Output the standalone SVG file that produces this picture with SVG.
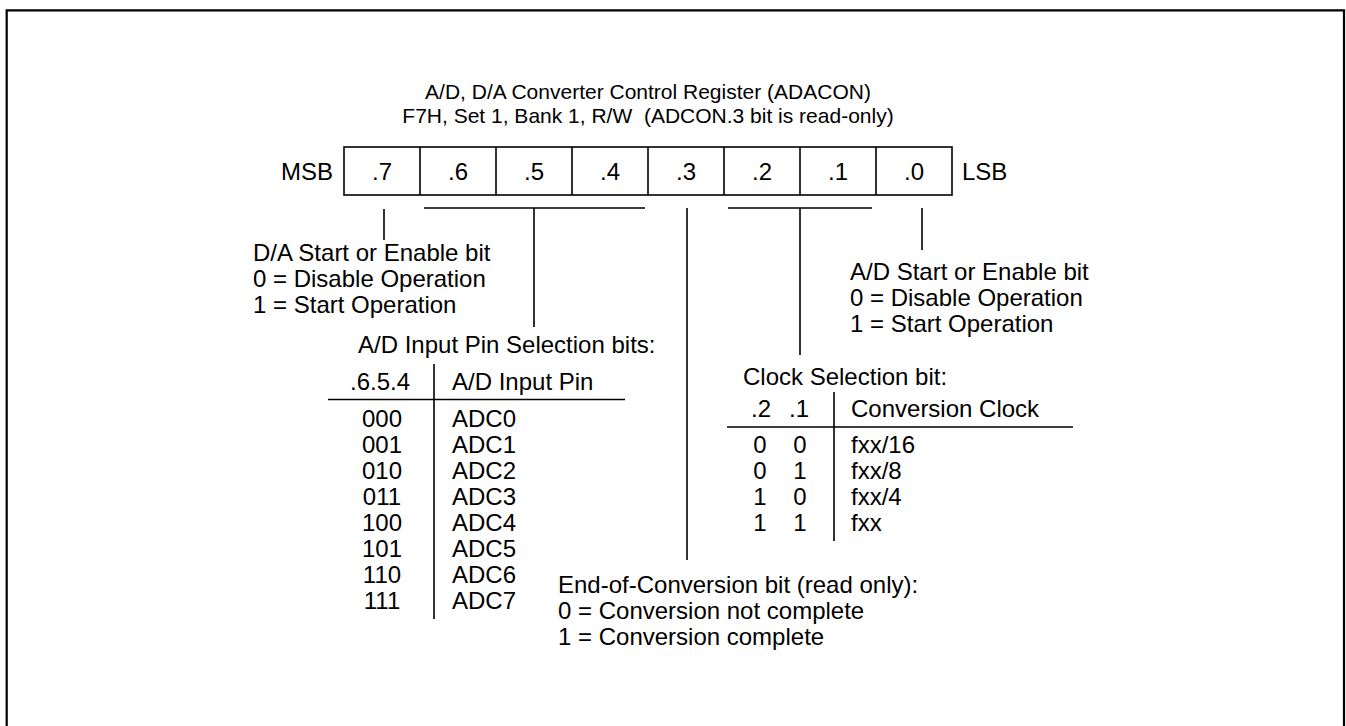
<svg xmlns="http://www.w3.org/2000/svg" width="1346" height="726" viewBox="0 0 1346 726">
<style>
text{font-family:"Liberation Sans",Arial,sans-serif;font-size:24px;fill:#000}
.t{font-size:21px}
.m{text-anchor:middle}
.e{text-anchor:end}
.ln{stroke:#000;stroke-width:1.6;fill:none}
</style>
<rect width="1346" height="726" fill="#fff"/>
<path d="M6.7 726V10.3H1344V726" fill="none" stroke="#000" stroke-width="2.2"/>
<g id="title">
<text class="t m" x="648" y="99">A/D, D/A Converter Control Register (ADACON)</text>
<text class="t m" x="648" y="123" xml:space="preserve">F7H, Set 1, Bank 1, R/W  (ADCON.3 bit is read-only)</text>
</g>
<g id="register">
<text class="e" x="333" y="180">MSB</text>
<rect class="ln" x="344" y="147" width="608" height="48"/>
<path class="ln" d="M420 147V195M496 147V195M572 147V195M648 147V195M724 147V195M800 147V195M876 147V195"/>
<text class="m" x="382" y="180">.7</text>
<text class="m" x="458" y="180">.6</text>
<text class="m" x="534" y="180">.5</text>
<text class="m" x="610" y="180">.4</text>
<text class="m" x="686" y="180">.3</text>
<text class="m" x="762" y="180">.2</text>
<text class="m" x="838" y="180">.1</text>
<text class="m" x="914" y="180">.0</text>
<text x="962" y="180">LSB</text>
</g>
<g id="connectors">
<path class="ln" d="M384 209V240"/>
<path class="ln" d="M424 208H645M534 208V327"/>
<path class="ln" d="M687 208V560"/>
<path class="ln" d="M728 208H872M800 208V355"/>
<path class="ln" d="M922 208V250"/>
</g>
<g id="bit7">
<text x="253" y="261">D/A Start or Enable bit</text>
<text x="253" y="287">0 = Disable Operation</text>
<text x="253" y="313">1 = Start Operation</text>
</g>
<g id="bits654">
<text x="358" y="353">A/D Input Pin Selection bits:</text>
<path class="ln" d="M434 364V619M328 399.5H625"/>
<text class="m" x="380" y="390">.6.5.4</text>
<text x="452" y="390">A/D Input Pin</text>
<text class="m" x="382" y="427">000</text><text x="452" y="427">ADC0</text>
<text class="m" x="382" y="453">001</text><text x="452" y="453">ADC1</text>
<text class="m" x="382" y="479">010</text><text x="452" y="479">ADC2</text>
<text class="m" x="382" y="505">011</text><text x="452" y="505">ADC3</text>
<text class="m" x="382" y="531">100</text><text x="452" y="531">ADC4</text>
<text class="m" x="382" y="557">101</text><text x="452" y="557">ADC5</text>
<text class="m" x="382" y="583">110</text><text x="452" y="583">ADC6</text>
<text class="m" x="382" y="609">111</text><text x="452" y="609">ADC7</text>
</g>
<g id="bit3">
<text x="558" y="593">End-of-Conversion bit (read only):</text>
<text x="558" y="619">0 = Conversion not complete</text>
<text x="558" y="645">1 = Conversion complete</text>
</g>
<g id="bits21">
<text x="743" y="385">Clock Selection bit:</text>
<path class="ln" d="M834 392V541M727 427H1073"/>
<text class="m" x="761" y="417">.2</text>
<text class="m" x="799" y="417">.1</text>
<text x="851" y="417">Conversion Clock</text>
<text class="m" x="760" y="453">0</text><text class="m" x="800" y="453">0</text><text x="851" y="453">fxx/16</text>
<text class="m" x="760" y="479">0</text><text class="m" x="800" y="479">1</text><text x="851" y="479">fxx/8</text>
<text class="m" x="760" y="505">1</text><text class="m" x="800" y="505">0</text><text x="851" y="505">fxx/4</text>
<text class="m" x="760" y="531">1</text><text class="m" x="800" y="531">1</text><text x="851" y="531">fxx</text>
</g>
<g id="bit0">
<text x="850" y="280">A/D Start or Enable bit</text>
<text x="850" y="306">0 = Disable Operation</text>
<text x="850" y="332">1 = Start Operation</text>
</g>
</svg>
